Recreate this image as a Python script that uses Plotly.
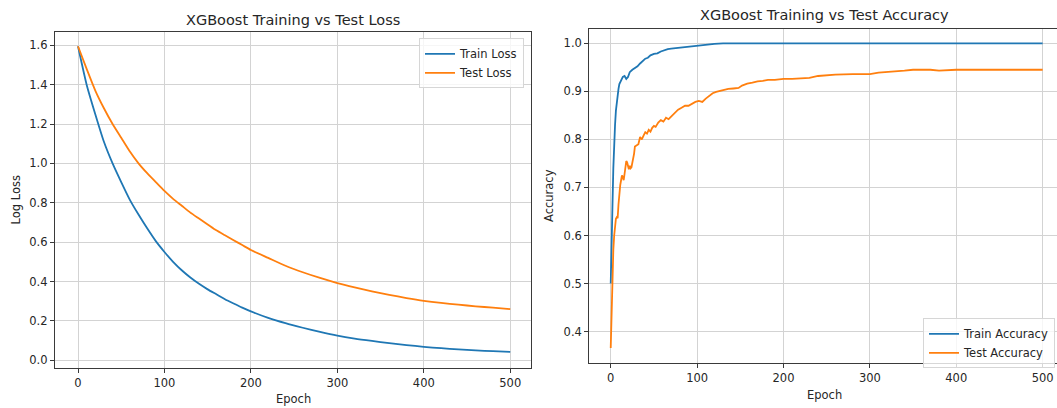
import plotly.graph_objects as go

# ---------------- data ----------------
loss_epochs = [0, 10, 20, 30, 40, 50, 60, 70, 80, 90, 100, 110, 120, 130, 140, 150, 160, 170, 180, 190,
               200, 220, 240, 260, 280, 300, 320, 340, 360, 380, 400, 420, 440, 460, 480, 500]
train_loss = [1.595, 1.40, 1.25, 1.11, 1.00, 0.905, 0.815, 0.74, 0.67, 0.605, 0.55, 0.50, 0.457, 0.42,
              0.388, 0.36, 0.335, 0.31, 0.288, 0.267, 0.248, 0.215, 0.188, 0.165, 0.144, 0.125, 0.11,
              0.098, 0.087, 0.077, 0.068, 0.061, 0.055, 0.05, 0.046, 0.042]
test_loss = [1.595, 1.48, 1.37, 1.28, 1.20, 1.13, 1.06, 1.00, 0.95, 0.905, 0.86, 0.82, 0.785, 0.75, 0.72,
             0.69, 0.66, 0.635, 0.61, 0.585, 0.56, 0.52, 0.48, 0.447, 0.418, 0.392, 0.37, 0.35, 0.332,
             0.316, 0.302, 0.291, 0.282, 0.274, 0.267, 0.26]

train_acc_epochs = [0, 1, 2, 3, 4, 5, 6, 7, 8, 9, 10, 12, 14, 16, 18, 20, 22, 25, 28, 31, 34, 37, 40, 43,
                    46, 50, 54, 58, 62, 66, 70, 80, 90, 100, 110, 120, 130, 150, 500]
train_acc = [0.50, 0.56, 0.66, 0.74, 0.80, 0.83, 0.86, 0.88, 0.895, 0.905, 0.915, 0.922, 0.93, 0.932,
             0.926, 0.93, 0.94, 0.945, 0.948, 0.952, 0.958, 0.963, 0.968, 0.97, 0.975, 0.978, 0.979,
             0.983, 0.986, 0.988, 0.989, 0.991, 0.993, 0.996, 0.997, 0.999, 1.0, 1.0, 1.0]

test_acc_epochs = [0, 1, 2, 3, 4, 5, 6, 7, 8, 9, 10, 11, 12, 13, 14, 15, 16, 17, 18, 19, 20, 21, 22, 23,
                   24, 25, 26, 27, 28, 30, 32, 34, 36, 38, 40, 42, 44, 46, 48, 50, 52, 55, 58, 61, 64,
                   67, 70, 74, 78, 82, 86, 90, 94, 98, 102, 106, 110, 114, 118, 122, 126, 130, 136, 142,
                   148, 152, 158, 164, 170, 176, 182, 190, 200, 210, 220, 230, 240, 250, 260, 280, 300,
                   310, 320, 330, 340, 350, 360, 370, 380, 390, 400, 450, 500]
test_acc = [0.366, 0.45, 0.52, 0.57, 0.60, 0.62, 0.635, 0.638, 0.636, 0.665, 0.69, 0.705, 0.715, 0.725,
            0.722, 0.715, 0.728, 0.74, 0.755, 0.752, 0.745, 0.738, 0.745, 0.74, 0.742, 0.75, 0.758,
            0.77, 0.785, 0.788, 0.79, 0.805, 0.80, 0.808, 0.815, 0.812, 0.82, 0.816, 0.824, 0.828,
            0.826, 0.835, 0.84, 0.837, 0.845, 0.842, 0.848, 0.855, 0.862, 0.866, 0.87, 0.87, 0.874,
            0.878, 0.88, 0.878, 0.885, 0.89, 0.896, 0.899, 0.901, 0.903, 0.905, 0.906, 0.907, 0.912,
            0.916, 0.918, 0.921, 0.922, 0.924, 0.924, 0.926, 0.926, 0.927, 0.928, 0.932, 0.934,
            0.935, 0.936, 0.936, 0.939, 0.94, 0.941, 0.943, 0.945, 0.945, 0.945, 0.943, 0.944,
            0.945, 0.945, 0.945]

x_ticks = [0, 100, 200, 300, 400, 500]
loss_ticks = [0.0, 0.2, 0.4, 0.6, 0.8, 1.0, 1.2, 1.4, 1.6]
acc_ticks = [0.4, 0.5, 0.6, 0.7, 0.8, 0.9, 1.0]

# ---------------- styling ----------------
W, H = 1057, 408
BLUE = "#1f77b4"
ORANGE = "#ff7f0e"
FONT = "DejaVu Sans"
TXT = "#262626"
GRID = "#d3d3d3"
SPINE = "#3a3a3a"


def px(x):
    return x / W


def py(y):
    return 1 - y / H


fig = go.Figure()
fig.add_trace(go.Scatter(x=loss_epochs, y=train_loss, mode="lines", name="Train Loss",
                         line=dict(color=BLUE, width=1.8, shape="spline", smoothing=0.6),
                         xaxis="x", yaxis="y", legend="legend"))
fig.add_trace(go.Scatter(x=loss_epochs, y=test_loss, mode="lines", name="Test Loss",
                         line=dict(color=ORANGE, width=1.8, shape="spline", smoothing=0.6),
                         xaxis="x", yaxis="y", legend="legend"))
fig.add_trace(go.Scatter(x=train_acc_epochs, y=train_acc, mode="lines", name="Train Accuracy",
                         line=dict(color=BLUE, width=1.8), xaxis="x2", yaxis="y2", legend="legend2"))
fig.add_trace(go.Scatter(x=test_acc_epochs, y=test_acc, mode="lines", name="Test Accuracy",
                         line=dict(color=ORANGE, width=1.8), xaxis="x2", yaxis="y2", legend="legend2"))

axis_common = dict(showgrid=True, gridcolor=GRID, gridwidth=1, zeroline=False,
                   showline=True, linecolor=SPINE, linewidth=1.2,
                   ticks="outside", ticklen=4, tickcolor=SPINE, tickwidth=1,
                   tickfont=dict(family=FONT, size=11.5, color=TXT))

fig.update_layout(
    width=W, height=H, autosize=False,
    margin=dict(l=0, r=0, t=0, b=0),
    paper_bgcolor="white", plot_bgcolor="white",
    font=dict(family=FONT, color=TXT),
    xaxis=dict(domain=[px(55), px(531)], range=[-26.6, 524], tickvals=x_ticks,
               mirror=True, anchor="y", **axis_common),
    yaxis=dict(domain=[py(368.3), py(32.3)], range=[-0.041, 1.666], tickvals=loss_ticks,
               tickformat=".1f", mirror=True, anchor="x", **axis_common),
    xaxis2=dict(domain=[px(589.3), 1.0], range=[-24.8, 516.6], tickvals=x_ticks,
                mirror=True, anchor="y2", **axis_common),
    yaxis2=dict(domain=[py(363.3), py(28.9)], range=[0.334, 1.030], tickvals=acc_ticks,
                tickformat=".1f", mirror=False, anchor="x2", **axis_common),
    legend=dict(x=px(524), y=py(38.3), xanchor="right", yanchor="top",
                bgcolor="rgba(255,255,255,0.8)", bordercolor="#d6d6d6", borderwidth=1,
                font=dict(family=FONT, size=11.5, color=TXT), itemwidth=30,
                tracegroupgap=0),
    legend2=dict(x=px(1055), y=py(318.3), xanchor="right", yanchor="top",
                 bgcolor="rgba(255,255,255,0.8)", bordercolor="#d6d6d6", borderwidth=1,
                 font=dict(family=FONT, size=11.5, color=TXT), itemwidth=30,
                 tracegroupgap=0),
    showlegend=True,
)

annotations = [
    dict(text="XGBoost Training vs Test Loss", x=px(293), y=py(19.6), font=dict(size=14.5)),
    dict(text="XGBoost Training vs Test Accuracy", x=px(824), y=py(15), font=dict(size=14.5)),
    dict(text="Log Loss", x=px(15.5), y=py(200), textangle=-90, font=dict(size=11.5)),
    dict(text="Accuracy", x=px(549), y=py(196), textangle=-90, font=dict(size=11.5)),
    dict(text="Epoch", x=px(293), y=py(399), font=dict(size=11.5)),
    dict(text="Epoch", x=px(824), y=py(395), font=dict(size=11.5)),
]
for a in annotations:
    a.update(xref="paper", yref="paper", showarrow=False, xanchor="center", yanchor="middle")
    a["font"].update(family=FONT, color=TXT)
fig.update_layout(annotations=annotations)

fig.write_html("out.html",
               config={"displayModeBar": False},
               post_script="document.body.style.margin='0';document.body.style.overflow='hidden';")
